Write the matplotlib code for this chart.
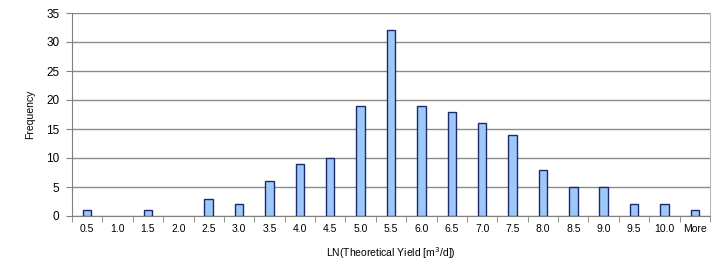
import matplotlib
matplotlib.use("Agg")
import matplotlib.pyplot as plt
import numpy as np

categories = ["0.5", "1.0", "1.5", "2.0", "2.5", "3.0", "3.5", "4.0", "4.5", "5.0",
              "5.5", "6.0", "6.5", "7.0", "7.5", "8.0", "8.5", "9.0", "9.5", "10.0", "More"]
frequency = [1, 0, 1, 0, 3, 2, 6, 9, 10, 19, 32, 19, 18, 16, 14, 8, 5, 5, 2, 2, 1]
y_ticks = [0, 5, 10, 15, 20, 25, 30, 35]

plt.rcParams['font.family'] = ['Liberation Sans', 'DejaVu Sans']

fig = plt.figure(figsize=(7.23, 2.70), dpi=100)
ax = fig.add_axes([72/723, 1 - 216/270, (710-72)/723, (216-13)/270])

x = np.arange(len(categories))
lws = [1.0 if v > 0 else 0.0 for v in frequency]
ax.bar(x, frequency, width=0.28, color="#9ec8fa", edgecolor="#1c2a6b", linewidth=lws, zorder=3)

ax.set_xlim(-0.5, len(categories) - 0.5)
ax.set_ylim(0, 35)
ax.set_yticks(y_ticks)
ax.set_yticklabels([str(v) for v in y_ticks], fontsize=8.5)
ax.yaxis.grid(True, color="#8a8a8a", linewidth=1.0, zorder=0)
ax.set_axisbelow(True)

ax.set_xticks(x)
ax.set_xticklabels(categories, fontsize=7.5)
ax.set_xticks(np.arange(-0.5, len(categories)), minor=True)
ax.tick_params(axis='x', which='major', length=0, pad=6)
ax.tick_params(axis='x', which='minor', length=4, color="#808080", direction='out')
ax.tick_params(axis='y', length=4, color="#808080", direction='out', pad=5)

ax.spines['top'].set_visible(False)
ax.spines['right'].set_color("#b8b8b8")
ax.spines['left'].set_color("#808080")
ax.spines['bottom'].set_color("#808080")

ax.set_ylabel("Frequency", fontsize=7.5, labelpad=8)
ax.set_xlabel("LN(Theoretical Yield [m$^3$/d])", fontsize=7.5, labelpad=8)

fig.savefig("out.png", dpi=100)
